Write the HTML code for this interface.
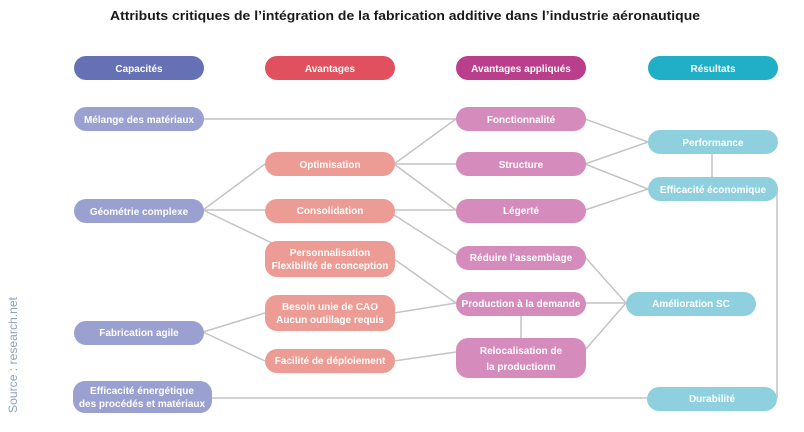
<!DOCTYPE html>
<html><head><meta charset="utf-8"><style>
html,body{margin:0;padding:0;background:#fff;width:804px;height:432px;overflow:hidden}
svg text{font-family:"Liberation Sans",sans-serif;font-weight:bold;fill:#fff;font-size:10px;text-anchor:middle}
</style></head><body>
<svg width="804" height="432" viewBox="0 0 804 432" xmlns="http://www.w3.org/2000/svg">
<text x="405" y="20" style="fill:#1a1a1a;font-size:13px" textLength="590" lengthAdjust="spacingAndGlyphs">Attributs critiques de l’intégration de la fabrication additive dans l’industrie aéronautique</text>
<text transform="translate(17,413) rotate(-90)" x="0" y="0" style="fill:#8ea2bb;font-weight:normal;font-size:12px;text-anchor:start" textLength="116" lengthAdjust="spacingAndGlyphs">Source : research.net</text>
<g stroke="#c4c4c4" stroke-width="1.5" fill="none">
<line x1="203" y1="119" x2="456" y2="119"/>
<line x1="203" y1="210" x2="265" y2="164"/>
<line x1="203" y1="210" x2="265" y2="210"/>
<line x1="203" y1="210" x2="272" y2="243"/>
<line x1="394" y1="164" x2="456" y2="119"/>
<line x1="394" y1="164" x2="456" y2="164"/>
<line x1="394" y1="164" x2="456" y2="210"/>
<line x1="394" y1="210" x2="456" y2="210"/>
<line x1="394" y1="215" x2="460" y2="257"/>
<line x1="394" y1="259" x2="456" y2="303"/>
<line x1="394" y1="313" x2="456" y2="303"/>
<line x1="203" y1="332" x2="265" y2="313"/>
<line x1="203" y1="332" x2="265" y2="361"/>
<line x1="394" y1="361" x2="456" y2="352"/>
<line x1="521" y1="315" x2="521" y2="338"/>
<line x1="585" y1="257" x2="626" y2="303"/>
<line x1="585" y1="303" x2="626" y2="303"/>
<line x1="585" y1="350" x2="626" y2="303"/>
<line x1="585" y1="119" x2="648" y2="142"/>
<line x1="585" y1="164" x2="648" y2="142"/>
<line x1="585" y1="164" x2="648" y2="189"/>
<line x1="585" y1="210" x2="648" y2="189"/>
<line x1="712" y1="154" x2="712" y2="177"/>
<line x1="777" y1="189" x2="777" y2="398"/>
<line x1="212" y1="398" x2="648" y2="398"/>
</g>
<rect x="74" y="56" width="130" height="24" rx="12" fill="#6671b5"/><text x="139" y="72">Capacités</text>
<rect x="265" y="56" width="130" height="24" rx="12" fill="#e0505f"/><text x="330" y="72">Avantages</text>
<rect x="456" y="56" width="130" height="24" rx="12" fill="#b93e8b"/><text x="521" y="72">Avantages appliqués</text>
<rect x="648" y="56" width="130" height="24" rx="12" fill="#21afc8"/><text x="713" y="72">Résultats</text>
<g fill="#9aa0d0">
<rect x="74" y="107" width="130" height="24" rx="12"/>
<rect x="74" y="199" width="130" height="24" rx="12"/>
<rect x="74" y="321" width="130" height="24" rx="12"/>
<rect x="73" y="381" width="139" height="32" rx="12"/>
</g>
<text x="139" y="123">Mélange des matériaux</text>
<text x="139" y="215">Géométrie complexe</text>
<text x="139" y="336">Fabrication agile</text>
<text x="142" y="394">Efficacité énergétique</text>
<text x="142" y="407">des procédés et matériaux</text>
<g fill="#ec9c94">
<rect x="265" y="152" width="130" height="24" rx="12"/>
<rect x="265" y="199" width="130" height="24" rx="12"/>
<rect x="265" y="241" width="130" height="36" rx="12"/>
<rect x="265" y="295" width="130" height="36" rx="12"/>
<rect x="265" y="349" width="130" height="24" rx="12"/>
</g>
<text x="330" y="168">Optimisation</text>
<text x="330" y="214">Consolidation</text>
<text x="330" y="256">Personnalisation</text>
<text x="330" y="269">Flexibilité de conception</text>
<text x="330" y="310">Besoin unie de CAO</text>
<text x="330" y="323">Aucun outillage requis</text>
<text x="330" y="364">Facilité de déploiement</text>
<g fill="#d68bbd">
<rect x="456" y="107" width="130" height="24" rx="12"/>
<rect x="456" y="152" width="130" height="24" rx="12"/>
<rect x="456" y="199" width="130" height="24" rx="12"/>
<rect x="456" y="246" width="130" height="24" rx="12"/>
<rect x="456" y="292" width="130" height="24" rx="12"/>
<rect x="456" y="338" width="130" height="40" rx="12"/>
</g>
<text x="521" y="123">Fonctionnalité</text>
<text x="521" y="168">Structure</text>
<text x="521" y="214">Légerté</text>
<text x="521" y="261">Réduire l'assemblage</text>
<text x="521" y="307">Production à la demande</text>
<text x="521" y="354">Relocalisation de</text>
<text x="521" y="370">la productionn</text>
<g fill="#8fd0df">
<rect x="648" y="130" width="130" height="24" rx="12"/>
<rect x="648" y="177" width="130" height="24" rx="12"/>
<rect x="626" y="292" width="130" height="24" rx="12"/>
<rect x="647" y="387" width="130" height="24" rx="12"/>
</g>
<text x="713" y="146">Performance</text>
<text x="713" y="193">Efficacité économique</text>
<text x="691" y="307">Amélioration SC</text>
<text x="712" y="402">Durabilité</text>
</svg>
</body></html>
